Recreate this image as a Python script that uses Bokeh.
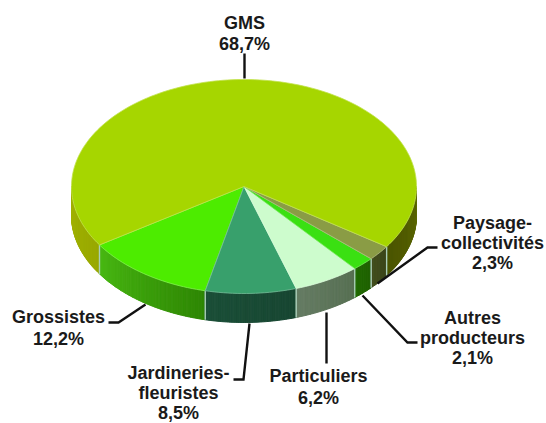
from math import sin, cos, radians
from bokeh.plotting import figure
from bokeh.embed import file_html
from bokeh.resources import INLINE
from bokeh.core.properties import value

categories = ["Grossistes", "Jardineries-fleuristes", "Particuliers", "Autres producteurs", "Paysage-collectivités", "GMS"]
shares = [12.2, 8.5, 6.2, 2.1, 2.3, 68.7]
top_colors = ["#4dec00", "#38a06c", "#cdfccd", "#3ae012", "#8a9c45", "#a6d600"]
wall_colors = [("#48b812", "#2e8604"), ("#1b4f38", "#184632"), ("#667c64", "#566f52"),
               ("#1f6a00", "#1f6000"), ("#434e1e", "#3a4518"), ("#4a5400", "#5c6800")]
gms_left_wall = ("#a2b300", "#98a800")
label_lines = [["Grossistes"], ["Jardineries-", "fleuristes"], ["Particuliers"], ["Autres", "producteurs"],
               ["Paysage-", "collectivités"], ["GMS"]]
label_anchor = [(58, 316, 22), (178, 372.5, 20), (318, 375, 22), (472, 317, 20), (492, 222, 20), (244, 22, 21)]
leaders = [([108, 118, 145], [322, 322, 304]), ([233, 243, 249], [379, 379, 323]), ([326, 326], [312, 363]),
           ([417, 407, 362], [342, 342, 295]), ([437, 427, 377], [247, 247, 283]), ([244, 244], [53, 78])]

CX, CY, RX, RY, DEPTH = 243.5, 186, 172.5, 107, 29
START = -56.9

p = figure(width=546, height=423, x_range=(0, 546), y_range=(423, 0), output_backend="svg",
           toolbar_location=None, min_border=0, outline_line_color=None)
p.axis.visible = False
p.grid.visible = False

def pt(t, d=0):
    return CX + RX * sin(radians(t)), CY + RY * cos(radians(t)) + d

def mix(a, b, f):
    ca = [int(a[i:i + 2], 16) for i in (1, 3, 5)]
    cb = [int(b[i:i + 2], 16) for i in (1, 3, 5)]
    return "#%02x%02x%02x" % tuple(round(x + (y - x) * f) for x, y in zip(ca, cb))

def wall(t0, t1, c0, c1):
    n = max(1, int((t1 - t0) / 0.6))
    xs, ys, cs = [], [], []
    for i in range(n):
        a = t0 + (t1 - t0) * i / n
        b = t0 + (t1 - t0) * (i + 1) / n
        pa, pb, qb, qa = pt(a), pt(b), pt(b, DEPTH), pt(a, DEPTH)
        xs.append([pa[0], pb[0], qb[0], qa[0]])
        ys.append([pa[1], pb[1], qb[1], qa[1]])
        cs.append(mix(c0, c1, (i + .5) / n))
    p.patches(xs, ys, fill_color=cs, line_color=cs, line_width=1)

bounds = [START]
for s in shares:
    bounds.append(bounds[-1] + s * 3.6)

# walls
wall(-90, START, *gms_left_wall)
for i in range(5):
    wall(bounds[i], bounds[i + 1], *wall_colors[i])
wall(bounds[5], 90, *wall_colors[5])
for i in range(6):
    t = bounds[i]
    a, b = pt(t), pt(t, DEPTH)
    p.line([a[0], b[0]], [a[1], b[1]], line_color="#a9cdb8", line_width=1.4)

# top faces
for i in range(6):
    t0, t1 = bounds[i], bounds[i + 1]
    n = max(2, int((t1 - t0) / 1.5))
    pts = [pt(t0 + (t1 - t0) * k / n) for k in range(n + 1)]
    xs = [CX] + [q[0] for q in pts]
    ys = [CY] + [q[1] for q in pts]
    p.patch(xs, ys, fill_color=top_colors[i], line_color=mix(top_colors[i], "#ffffff", .3), line_width=0.8)

# leaders
for xs, ys in leaders:
    p.line(xs, ys, line_color="#111111", line_width=2.4, line_join="miter")

# labels
for name_lines, s, (x, y, lh) in zip(label_lines, shares, label_anchor):
    lines = name_lines + [f"{s}".replace(".", ",") + "%"]
    for k, t in enumerate(lines):
        p.text([x], [y + k * lh], text=[t], text_font=value("Liberation Sans"), text_font_style="bold",
               text_font_size="18px", text_align="center", text_baseline="middle", text_color="#1a1a1a")

open("out.html", "w").write(file_html(p, INLINE))
